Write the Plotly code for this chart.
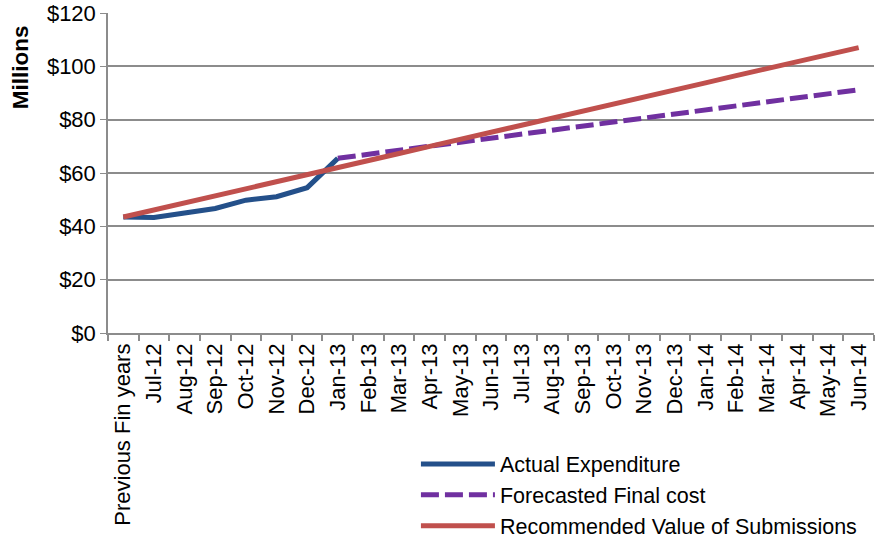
import plotly.graph_objects as go

categories = ["Previous Fin years", "Jul-12", "Aug-12", "Sep-12", "Oct-12", "Nov-12", "Dec-12",
              "Jan-13", "Feb-13", "Mar-13", "Apr-13", "May-13", "Jun-13", "Jul-13", "Aug-13",
              "Sep-13", "Oct-13", "Nov-13", "Dec-13", "Jan-14", "Feb-14", "Mar-14", "Apr-14",
              "May-14", "Jun-14"]

actual_x = categories[:8]
actual = [43.5, 43.3, 45.0, 46.7, 49.8, 51.1, 54.5, 65.5]

forecast_x = categories[7:]
forecast = [65.5, 67.0, 68.5, 70.0, 71.5, 73.0, 74.5, 76.0, 77.5, 79.0, 80.5, 82.0,
            83.5, 85.0, 86.5, 88.0, 89.5, 91.2]

recommended = [43.5, 46.1, 48.8, 51.4, 54.1, 56.7, 59.4, 62.0, 64.7, 67.3, 70.0, 72.6,
               75.3, 77.9, 80.6, 83.2, 85.9, 88.5, 91.2, 93.8, 96.5, 99.1, 101.8, 104.4, 107.0]

y_ticks = [0, 20, 40, 60, 80, 100, 120]
y_labels = ["$0", "$20", "$40", "$60", "$80", "$100", "$120"]

fig = go.Figure()
fig.add_trace(go.Scatter(x=actual_x, y=actual, mode="lines", name="Actual Expenditure",
                         line=dict(color="#24508A", width=5)))
fig.add_trace(go.Scatter(x=forecast_x, y=forecast, mode="lines", name="Forecasted Final cost",
                         line=dict(color="#7030A0", width=5, dash="18px,6px")))
fig.add_trace(go.Scatter(x=categories, y=recommended, mode="lines",
                         name="Recommended Value of Submissions",
                         line=dict(color="#C0504D", width=5)))

font_family = "Liberation Sans, Arial, sans-serif"
fig.update_layout(
    width=876, height=540,
    margin=dict(l=108, r=2, t=13, b=207, autoexpand=False),
    plot_bgcolor="white", paper_bgcolor="white",
    font=dict(family=font_family, size=22, color="black"),
    showlegend=True,
    legend=dict(x=0.402, y=-0.345, xanchor="left", yanchor="top",
                font=dict(size=21.5), itemwidth=74, tracegroupgap=0,
                bgcolor="rgba(0,0,0,0)"),
    xaxis=dict(type="category", categoryorder="array", categoryarray=categories,
               tickangle=-90, tickson="boundaries", ticks="outside", ticklen=6,
               tickcolor="#8C8C8C", tickwidth=1.5, showline=True, linecolor="#8C8C8C",
               linewidth=1.5, showgrid=False, range=[-0.5, 24.5], automargin=False,
               tickfont=dict(size=22)),
    yaxis=dict(range=[0, 120], tickvals=y_ticks, ticktext=y_labels, showgrid=True,
               gridcolor="#8C8C8C", gridwidth=1.5, showline=True, linecolor="#8C8C8C",
               linewidth=1.5, ticks="outside", ticklen=6, tickcolor="#8C8C8C",
               zeroline=False, tickfont=dict(size=22), automargin=False),
    annotations=[dict(text="<b>Millions</b>", xref="paper", yref="paper",
                      x=-0.115, y=0.83, xanchor="center", yanchor="middle",
                      textangle=-90, showarrow=False, font=dict(size=22.5))],
)

fig.write_html("out.html", config={"displayModeBar": False},
               post_script="document.body.style.margin='0px';document.body.style.padding='0px';")
